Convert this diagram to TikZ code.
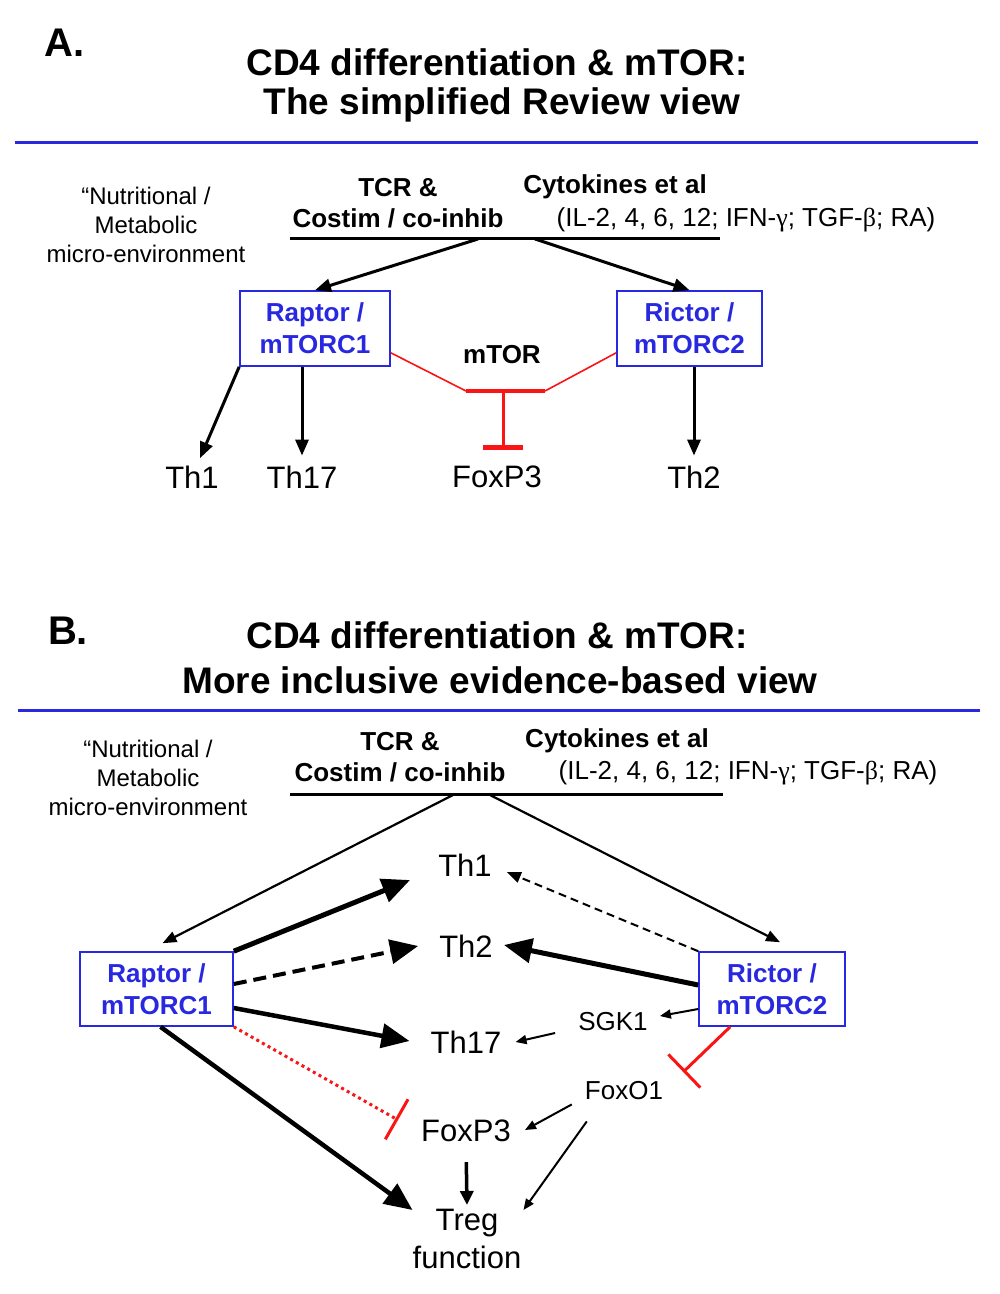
\documentclass[tikz,border=0pt]{standalone}
\usepackage{fontspec}
\setmainfont{Liberation Sans}
\newfontfamily\symfont{Liberation Serif}
\usetikzlibrary{arrows.meta,calc}
\definecolor{myblue}{RGB}{40,40,225}
\definecolor{myred}{RGB}{250,20,20}
\begin{document}
\begin{tikzpicture}[x=1pt,y=-1pt,
 lbl/.style={inner sep=2pt, font=\fontsize{31}{38}\selectfont, align=center},
 small/.style={inner sep=2pt, font=\fontsize{26}{31}\selectfont},
 bsmall/.style={inner sep=0pt, font=\bfseries\fontsize{26}{31}\selectfont, align=center},
 reg/.style={inner sep=0pt, font=\fontsize{26}{31}\selectfont},
 ttl/.style={inner sep=0pt, font=\bfseries\fontsize{37}{44}\selectfont},
 panel/.style={inner sep=0pt, font=\bfseries\fontsize{40}{44}\selectfont},
 nutr/.style={inner sep=0pt, font=\fontsize{24}{29}\selectfont, align=center},
 cplx/.style={draw=myblue, line width=1.6pt, text=myblue, font=\bfseries\fontsize{26}{32}\selectfont, align=center, inner sep=0pt},
 rule/.style={line width=3pt, myblue},
 bar/.style={line width=3pt, black},
 thinarr/.style={line width=2.2pt, -{Triangle[length=14pt,width=11pt]}},
 arrA/.style={line width=3pt, -{Triangle[length=16pt,width=13pt]}},
 smallarr/.style={line width=2pt, -{Triangle[length=11pt,width=9pt]}},
 thickarr/.style={line width=5pt, -{Triangle[length=28pt,width=24pt]}},
 medarr/.style={line width=3.5pt, -{Triangle[length=14pt,width=13pt]}},
 inhib/.style={myred, line width=3pt, -{Bar[width=46pt,line width=3pt]}},
]
\useasboundingbox (0,0) rectangle (1000,1294);
\fill[white] (0,0) rectangle (1000,1294);

% ================= Panel A =================
\node[panel] (labA) at (65,43) {A.};
\node[ttl] (t1a) at (497,62) {CD4 differentiation \& mTOR:};
\node[ttl] (t2a) at (502,105) {The simplified Review view};
\coordinate (ruleAL) at (15,142);
\coordinate (ruleAR) at (978,142);
\draw[rule] (ruleAL) -- (ruleAR);

\node[nutr] (nutrA) at (146,225) {“Nutritional /\\Metabolic\\micro-environment};
\node[bsmall] (tcrA) at (398,203) {TCR \&\\Costim / co-inhib};
\node[bsmall] (cytA) at (615,187) {Cytokines et al};
\node[reg] (ilA) at (746,220) {(IL-2, 4, 6, 12; IFN-{\symfont γ}; TGF-{\symfont β}; RA)};
\coordinate (barAL) at (290,238);
\coordinate (barAR) at (720,238);
\coordinate (srcA1) at (478,239);
\coordinate (srcA2) at (535,239);
\draw[bar] (barAL) -- (barAR);

\node[cplx, minimum width=150pt, minimum height=75pt] (rapA) at (315,328.5) {Raptor /\\mTORC1};
\node[cplx, minimum width=145pt, minimum height=75pt] (ricA) at (689.5,328.5) {Rictor /\\mTORC2};
\draw[arrA] (srcA1) -- (rapA.north);
\draw[arrA] (srcA2) -- (ricA.north);

\node[bsmall] (mtor) at (502,355) {mTOR};
\coordinate (jL) at (466,391);
\coordinate (jR) at (545,391);
\coordinate (jM) at (503,391);
\draw[myred, line width=1.6pt] ($(rapA.south east)+(0,-14)$) -- (jL);
\draw[myred, line width=1.6pt] ($(ricA.south west)+(0,-14)$) -- (jR);
\draw[myred, line width=4.5pt] (jL) -- (jR);

\node[lbl] (th1A) at (192,477) {Th1};
\node[lbl] (th17A) at (302,477) {Th17};
\node[lbl] (foxA) at (497,477) {FoxP3};
\node[lbl] (th2A) at (694,477) {Th2};

\draw[myred, line width=3pt, -{Bar[width=40pt,line width=4.5pt]}, shorten >=14pt] (jM) -- (jM |- foxA.north);
\draw[arrA, shorten >=6pt] (rapA.south west) -- (th1A);
\draw[arrA, shorten >=8pt] (th17A |- rapA.south) -- (th17A.north);
\draw[arrA, shorten >=8pt] (th2A |- ricA.south) -- (th2A.north);

% ================= Panel B =================
\node[panel] (labB) at (68,631) {B.};
\node[ttl] (t1b) at (497,635) {CD4 differentiation \& mTOR:};
\node[ttl] (t2b) at (500,680) {More inclusive evidence-based view};
\coordinate (ruleBL) at (18,710);
\coordinate (ruleBR) at (980,710);
\draw[rule] (ruleBL) -- (ruleBR);

\node[nutr] (nutrB) at (148,778) {“Nutritional /\\Metabolic\\micro-environment};
\node[bsmall] (tcrB) at (400,757) {TCR \&\\Costim / co-inhib};
\node[bsmall] (cytB) at (617,741) {Cytokines et al};
\node[reg] (ilB) at (748,773) {(IL-2, 4, 6, 12; IFN-{\symfont γ}; TGF-{\symfont β}; RA)};
\coordinate (barBL) at (290,794);
\coordinate (barBR) at (723,794);
\coordinate (srcB1) at (453,795);
\coordinate (srcB2) at (490,795);
\draw[bar] (barBL) -- (barBR);

\node[cplx, minimum width=153pt, minimum height=74pt] (rapB) at (156.5,989) {Raptor /\\mTORC1};
\node[cplx, minimum width=146pt, minimum height=74pt] (ricB) at (772,989) {Rictor /\\mTORC2};

\node[lbl] (th1B) at (465,865) {Th1};
\node[lbl] (th2B) at (466,946) {Th2};
\node[lbl] (th17B) at (466,1042) {Th17};
\node[small] (sgk) at (613,1022) {SGK1};
\node[small] (foxo) at (624,1091) {FoxO1};
\node[lbl] (foxB) at (466,1131) {FoxP3};
\node[lbl] (treg) at (467,1239) {Treg\\function};

\draw[thinarr] (srcB1) -- ($(rapB.north)+(6,-8)$);
\draw[thinarr] (srcB2) -- ($(ricB.north)+(8,-9)$);

% from Raptor
\draw[thickarr] (rapB.north east) -- ($(th1B.west)+(-26,15)$);
\draw[thickarr, line width=4pt, dash pattern=on 13pt off 7pt] ($(rapB.east)+(0,-5)$) -- ($(th2B.west)+(-19,0)$);
\draw[thickarr, line width=4.5pt] ($(rapB.east)+(0,19)$) -- ($(th17B.west)+(-19,-1)$);
\draw[inhib, dash pattern=on 3pt off 3.5pt] (rapB.south east) -- ($(foxB.west)+(-21,-11)$);
\draw[thickarr, line width=4.5pt] ($(rapB.south)+(4,0)$) -- ($(treg.north west)+(2,3)$);

% from Rictor
\draw[thinarr, line width=2pt, dash pattern=on 8pt off 5pt] (ricB.north west) -- ($(th1B.east)+(13,7)$);
\draw[thickarr] ($(ricB.west)+(0,-4)$) -- ($(th2B.east)+(9,-1)$);
\draw[smallarr] ($(ricB.west)+(0,20)$) -- ($(sgk.east)+(10,-6)$);
\draw[smallarr] ($(sgk.west)+(-21,11)$) -- ($(th17B.east)+(12,0)$);
\draw[inhib] ($(ricB.south west)+(32,0)$) -- ($(foxo.east)+(18,-19)$);

% from FoxO1 / FoxP3
\draw[smallarr] ($(foxo.south west)+(-11,2)$) -- ($(foxB.east)+(12,-1)$);
\draw[smallarr] ($(foxo.south west)+(4,19)$) -- ($(treg.north east)+(0,3)$);
\draw[medarr, shorten <=18pt] (foxB.south) -- ($(treg.north)+(0,-2)$);
\end{tikzpicture}
\end{document}
